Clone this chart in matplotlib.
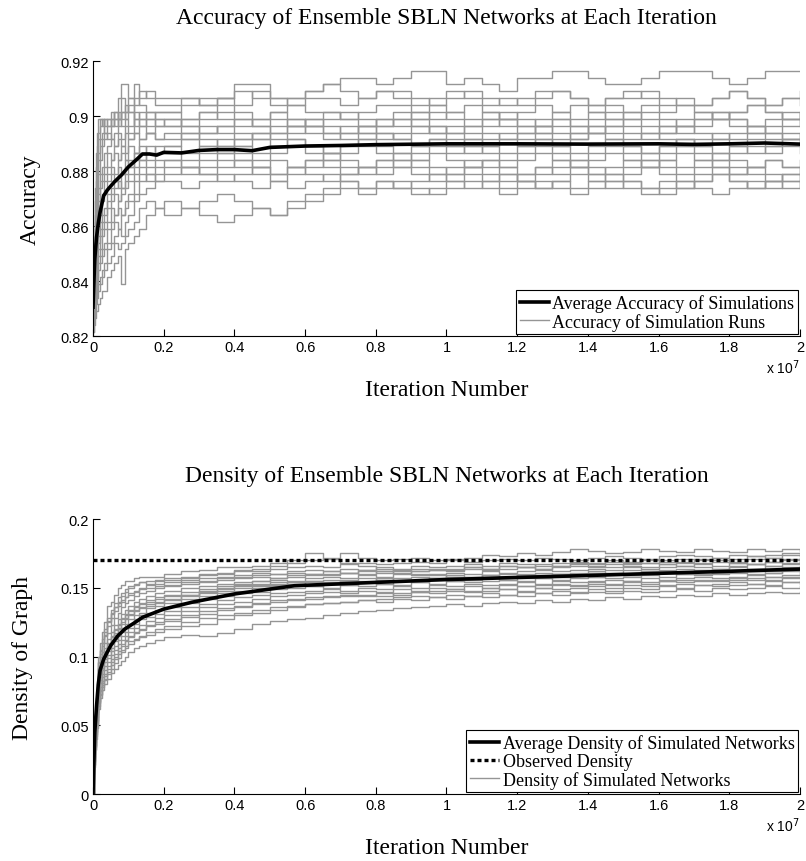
import numpy as np
import matplotlib
matplotlib.use('Agg')
import matplotlib.pyplot as plt
from matplotlib.ticker import FuncFormatter

# iteration grid of the simulation runs (units of 1e7 iterations)
run_iters = [0, 0.0025, 0.005, 0.0075, 0.01, 0.015, 0.02, 0.025, 0.03, 0.04,
             0.05, 0.06, 0.07, 0.08, 0.09, 0.1, 0.115, 0.13, 0.15, 0.175,
             0.2, 0.25, 0.3, 0.35, 0.4, 0.45, 0.5, 0.55, 0.6, 0.65,
             0.7, 0.75, 0.8, 0.85, 0.9, 0.95, 1.0, 1.05, 1.1, 1.15,
             1.2, 1.25, 1.3, 1.35, 1.4, 1.45, 1.5, 1.55, 1.6, 1.65,
             1.7, 1.75, 1.8, 1.85, 1.9, 1.95, 2.0]

# accuracy of each run as a level k: accuracy = acc_base + acc_step * k
acc_base = 0.824
acc_step = 0.0025
acc_runs = [
    [4, 12, 20, 25, 28, 30, 30, 29, 30, 30, 31, 30, 33, 35, 35, 33, 35, 33, 34, 33,
     33, 33, 32, 33, 35, 35, 33, 33, 34, 35, 36, 36, 35, 36, 37, 37, 35, 36, 35, 34, 36, 36, 37, 37, 36, 35, 35, 36, 37, 37, 37, 36, 35, 36, 37, 37, 37],
    [3, 10, 18, 23, 26, 28, 30, 30, 29, 30, 29, 31, 30, 33, 31, 33, 32, 34, 33, 32,
     32, 33, 32, 33, 34, 33, 32, 33, 34, 35, 34, 33, 34, 33, 32, 33, 34, 33, 32, 33, 32, 33, 34, 33, 32, 33, 34, 33, 32, 33, 32, 33, 34, 33, 32, 33, 32],
    [2, 8, 15, 20, 24, 27, 29, 30, 28, 29, 30, 31, 30, 31, 32, 31, 33, 32, 31, 31,
     31, 32, 33, 33, 32, 34, 33, 32, 33, 33, 32, 33, 34, 34, 33, 32, 33, 34, 33, 32, 33, 34, 34, 33, 32, 33, 33, 34, 33, 32, 32, 33, 34, 33, 32, 33, 34],
    [3, 9, 16, 21, 22, 25, 27, 28, 30, 29, 30, 29, 31, 30, 31, 32, 30, 31, 30, 31,
     31, 30, 31, 32, 31, 30, 31, 32, 31, 31, 30, 31, 32, 32, 31, 30, 31, 32, 31, 30, 31, 32, 31, 32, 31, 30, 31, 32, 31, 32, 31, 30, 31, 32, 31, 30, 31],
    [1, 7, 14, 18, 21, 24, 26, 27, 28, 27, 29, 30, 29, 31, 30, 29, 31, 30, 31, 30,
     29, 30, 31, 30, 29, 30, 31, 30, 29, 30, 31, 30, 29, 30, 31, 32, 31, 30, 31, 30, 29, 30, 31, 30, 31, 32, 31, 30, 29, 30, 31, 30, 31, 32, 31, 30, 31],
    [2, 6, 12, 17, 19, 22, 24, 26, 27, 28, 27, 28, 30, 29, 30, 31, 29, 30, 29, 30,
     30, 29, 30, 31, 30, 29, 30, 29, 30, 31, 30, 29, 30, 29, 30, 31, 30, 29, 30, 31, 30, 29, 30, 29, 30, 31, 30, 31, 30, 29, 30, 31, 30, 29, 30, 31, 30],
    [3, 8, 13, 16, 18, 20, 22, 23, 25, 26, 27, 26, 28, 27, 29, 28, 30, 29, 28, 29,
     30, 29, 28, 29, 30, 29, 28, 29, 30, 29, 28, 29, 30, 31, 30, 29, 28, 29, 30, 29, 28, 29, 30, 29, 28, 29, 30, 29, 28, 29, 30, 31, 30, 29, 28, 29, 30],
    [2, 5, 11, 14, 17, 19, 21, 22, 23, 25, 24, 26, 27, 26, 28, 27, 28, 29, 30, 29,
     29, 28, 29, 28, 27, 28, 29, 30, 29, 28, 29, 28, 29, 30, 29, 28, 29, 28, 29, 30, 29, 28, 29, 28, 29, 30, 29, 28, 29, 28, 29, 30, 29, 28, 29, 30, 29],
    [4, 7, 10, 13, 15, 18, 20, 21, 22, 23, 24, 25, 24, 26, 25, 27, 28, 27, 28, 27,
     28, 27, 28, 29, 28, 27, 28, 29, 28, 27, 28, 29, 28, 27, 28, 29, 28, 27, 28, 27, 28, 29, 28, 27, 28, 29, 28, 27, 28, 29, 28, 27, 28, 29, 28, 27, 28],
    [1, 5, 9, 12, 14, 16, 18, 19, 21, 22, 23, 22, 24, 25, 24, 26, 25, 27, 28, 27,
     27, 28, 27, 26, 27, 28, 27, 28, 29, 28, 27, 28, 27, 28, 29, 28, 27, 26, 27, 28, 27, 28, 27, 28, 29, 28, 27, 28, 27, 26, 27, 28, 27, 28, 27, 28, 27],
    [3, 6, 9, 11, 13, 15, 16, 18, 19, 21, 22, 21, 23, 22, 24, 23, 25, 26, 25, 26,
     26, 27, 26, 25, 26, 27, 26, 27, 26, 25, 26, 27, 28, 27, 26, 27, 26, 25, 26, 27, 26, 27, 26, 27, 28, 27, 26, 25, 26, 27, 26, 27, 26, 25, 26, 27, 26],
    [2, 4, 8, 10, 12, 13, 15, 16, 17, 19, 20, 21, 20, 22, 23, 24, 25, 24, 26, 25,
     26, 25, 26, 27, 26, 25, 26, 27, 26, 25, 26, 27, 26, 25, 26, 27, 26, 27, 26, 25, 26, 27, 26, 25, 26, 27, 26, 25, 26, 27, 26, 25, 26, 27, 26, 27, 26],
    [0, 3, 7, 9, 11, 12, 14, 15, 16, 18, 19, 20, 21, 20, 22, 23, 24, 25, 24, 25,
     25, 24, 25, 26, 25, 24, 25, 26, 25, 24, 25, 26, 25, 24, 25, 26, 25, 26, 25, 24, 25, 26, 25, 24, 25, 26, 25, 24, 25, 26, 25, 24, 25, 26, 25, 26, 25],
    [1, 4, 6, 8, 10, 11, 13, 14, 15, 17, 18, 19, 18, 20, 21, 22, 23, 24, 23, 24,
     24, 23, 24, 25, 24, 23, 24, 23, 24, 25, 24, 23, 24, 23, 24, 25, 24, 23, 24, 23, 24, 25, 24, 23, 24, 25, 24, 23, 24, 23, 24, 25, 24, 23, 24, 23, 24],
    [2, 3, 5, 7, 9, 10, 11, 13, 14, 15, 17, 16, 18, 19, 20, 21, 22, 23, 22, 23,
     24, 23, 22, 23, 24, 23, 22, 23, 24, 23, 22, 23, 24, 25, 24, 23, 22, 23, 24, 23, 22, 23, 24, 23, 22, 23, 24, 23, 24, 25, 24, 23, 22, 23, 24, 23, 22],
    [0, 2, 4, 6, 7, 9, 10, 11, 12, 14, 15, 16, 17, 16, 18, 19, 21, 22, 21, 22,
     23, 22, 23, 24, 23, 22, 21, 22, 23, 24, 23, 22, 23, 24, 23, 22, 23, 24, 23, 22, 21, 22, 23, 24, 23, 22, 23, 24, 23, 22, 23, 24, 23, 22, 21, 22, 23],
    [1, 3, 4, 5, 6, 8, 9, 10, 11, 12, 14, 15, 14, 16, 17, 18, 19, 21, 22, 21,
     22, 23, 22, 21, 22, 23, 22, 23, 22, 21, 22, 23, 22, 23, 22, 21, 22, 23, 22, 21, 22, 23, 22, 23, 22, 21, 22, 23, 22, 21, 22, 23, 22, 23, 22, 21, 22],
    [-1, 1, 3, 4, 5, 6, 7, 8, 9, 11, 12, 13, 14, 13, 15, 16, 18, 19, 20, 21,
     21, 20, 21, 22, 21, 20, 21, 20, 21, 22, 21, 20, 21, 20, 21, 22, 21, 20, 21, 22, 21, 20, 21, 20, 21, 22, 21, 20, 21, 20, 21, 22, 21, 20, 21, 20, 21],
    [0, 1, 2, 3, 4, 5, 6, 7, 8, 9, 10, 12, 11, 12, 13, 14, 15, 17, 18, 17,
     18, 17, 18, 19, 18, 17, 16, 18, 19, 20, 21, 20, 21, 20, 19, 20, 21, 22, 21, 20, 21, 20, 21, 22, 21, 20, 21, 20, 19, 20, 21, 22, 21, 20, 21, 22, 21],
    [-1, 0, 1, 2, 2, 3, 4, 5, 5, 7, 8, 9, 10, 6, 11, 12, 13, 14, 16, 17,
     16, 17, 16, 15, 16, 17, 16, 17, 18, 19, 20, 19, 20, 21, 20, 19, 20, 21, 20, 19, 20, 21, 20, 19, 20, 21, 20, 19, 20, 21, 20, 19, 20, 21, 20, 21, 20],
]

# average accuracy over the runs
acc_mean_iters = [0, 0.002, 0.005, 0.01, 0.015, 0.02, 0.03, 0.04, 0.05, 0.06, 0.08, 0.1,
                  0.12, 0.14, 0.16, 0.18, 0.2, 0.25, 0.3, 0.35, 0.4, 0.45, 0.5, 0.6,
                  0.7, 0.8, 1.0, 1.2, 1.4, 1.6, 1.7, 1.8, 1.9, 2.0]
acc_mean = [0.8305, 0.838, 0.848, 0.856, 0.861, 0.865, 0.871, 0.873, 0.8745, 0.876, 0.8785, 0.8815,
            0.8838, 0.8862, 0.8862, 0.8858, 0.8868, 0.8866, 0.8875, 0.8878, 0.8878, 0.8874, 0.8886, 0.8891,
            0.8893, 0.8896, 0.8899, 0.8899, 0.8898, 0.8899, 0.8897, 0.8899, 0.8902, 0.8898]

# density of each simulated network, in thousandths
dens_runs = [
    [0, 40, 58, 70, 80, 100, 110, 118, 125, 137, 140, 145, 150, 152, 155, 155, 157, 158, 158, 158,
     160, 162, 163, 165, 165, 166, 168, 168, 170, 172, 175, 172, 170, 171, 172, 170, 171, 172, 174, 173, 175, 174, 176, 178, 177, 175, 176, 178, 177, 176, 178, 177, 176, 178, 177, 178, 177],
    [0, 36, 55, 66, 76, 95, 105, 113, 120, 128, 134, 139, 143, 146, 149, 151, 153, 154, 155, 156,
     157, 158, 160, 161, 163, 162, 164, 165, 166, 165, 167, 168, 167, 168, 169, 168, 170, 169, 170, 171, 170, 172, 171, 170, 172, 173, 172, 171, 173, 174, 173, 172, 174, 173, 174, 175, 174],
    [0, 35, 52, 63, 72, 90, 100, 108, 115, 122, 128, 133, 137, 140, 143, 146, 148, 150, 152, 153,
     154, 156, 157, 158, 159, 161, 160, 162, 163, 162, 164, 163, 165, 164, 166, 165, 166, 167, 166, 168, 167, 166, 168, 169, 168, 170, 169, 168, 170, 169, 171, 170, 169, 171, 172, 171, 172],
    [0, 33, 50, 60, 70, 86, 96, 103, 110, 117, 123, 128, 132, 136, 139, 141, 144, 146, 148, 150,
     151, 153, 154, 156, 157, 158, 157, 159, 160, 159, 161, 160, 162, 161, 162, 163, 162, 164, 163, 164, 165, 164, 165, 166, 165, 167, 166, 165, 167, 168, 167, 166, 168, 167, 169, 168, 169],
    [0, 32, 48, 58, 67, 83, 93, 100, 106, 113, 118, 123, 127, 131, 134, 137, 140, 142, 144, 146,
     148, 150, 151, 153, 154, 155, 156, 155, 157, 158, 157, 159, 158, 160, 159, 160, 161, 160, 162, 161, 162, 163, 162, 163, 164, 163, 165, 164, 165, 166, 165, 164, 166, 167, 166, 167, 168],
    [0, 30, 46, 56, 65, 80, 90, 97, 103, 109, 114, 119, 123, 127, 130, 133, 136, 138, 140, 142,
     145, 147, 149, 150, 152, 153, 154, 153, 155, 156, 155, 157, 156, 157, 158, 157, 159, 158, 159, 160, 159, 161, 160, 161, 162, 161, 163, 162, 163, 164, 163, 164, 165, 164, 166, 165, 166],
    [0, 38, 56, 68, 78, 96, 104, 110, 116, 125, 131, 136, 140, 144, 147, 150, 152, 154, 153, 155,
     156, 157, 159, 160, 162, 164, 166, 170, 175, 171, 168, 166, 164, 162, 160, 159, 158, 157, 159, 158, 160, 159, 158, 160, 161, 160, 159, 161, 162, 161, 160, 162, 163, 162, 164, 163, 165],
    [0, 29, 44, 54, 63, 78, 87, 94, 100, 106, 111, 116, 120, 124, 127, 130, 133, 135, 137, 139,
     141, 144, 146, 148, 150, 151, 152, 153, 154, 153, 155, 154, 156, 155, 156, 157, 156, 158, 157, 158, 159, 158, 160, 159, 160, 161, 160, 162, 161, 162, 163, 162, 163, 164, 163, 164, 165],
    [0, 28, 43, 53, 62, 76, 85, 92, 98, 104, 109, 113, 117, 121, 124, 127, 130, 132, 135, 137,
     139, 142, 144, 146, 148, 150, 151, 152, 151, 153, 152, 154, 153, 155, 154, 156, 155, 156, 157, 156, 158, 157, 158, 159, 158, 160, 159, 160, 161, 160, 162, 161, 162, 163, 162, 163, 164],
    [0, 27, 42, 52, 60, 74, 83, 90, 96, 101, 106, 111, 115, 118, 121, 124, 127, 130, 132, 134,
     136, 139, 142, 144, 146, 147, 149, 150, 151, 150, 152, 151, 153, 152, 154, 153, 155, 154, 155, 156, 155, 157, 156, 157, 158, 157, 158, 159, 158, 160, 159, 160, 161, 160, 161, 162, 161],
    [0, 26, 40, 50, 58, 72, 81, 87, 93, 99, 104, 108, 112, 115, 118, 121, 124, 127, 129, 131,
     133, 136, 138, 141, 143, 145, 146, 147, 148, 149, 148, 150, 149, 151, 150, 152, 151, 153, 152, 153, 154, 153, 155, 154, 155, 156, 155, 157, 156, 157, 158, 157, 158, 159, 158, 159, 160],
    [0, 25, 38, 48, 56, 70, 78, 85, 90, 96, 101, 105, 109, 112, 115, 118, 121, 123, 126, 128,
     130, 133, 136, 138, 140, 142, 144, 145, 146, 147, 146, 148, 147, 149, 148, 150, 149, 151, 150, 152, 151, 152, 153, 152, 154, 153, 155, 154, 155, 156, 155, 156, 157, 156, 158, 157, 158],
    [0, 24, 36, 46, 54, 68, 76, 82, 87, 93, 98, 102, 106, 109, 112, 115, 118, 120, 123, 125,
     127, 130, 133, 135, 137, 139, 141, 142, 143, 144, 145, 144, 146, 145, 147, 146, 148, 147, 148, 149, 148, 150, 149, 150, 151, 150, 152, 151, 152, 153, 152, 153, 154, 153, 155, 154, 155],
    [0, 22, 34, 44, 52, 66, 73, 79, 84, 89, 94, 98, 102, 105, 108, 111, 113, 115, 118, 120,
     122, 125, 128, 130, 132, 134, 136, 137, 138, 139, 140, 141, 140, 142, 141, 143, 142, 144, 143, 145, 144, 146, 145, 146, 147, 146, 148, 147, 148, 149, 148, 150, 149, 150, 151, 150, 151],
    [0, 20, 32, 40, 48, 62, 70, 76, 80, 84, 88, 91, 94, 97, 100, 103, 106, 108, 110, 112,
     114, 116, 115, 117, 120, 124, 126, 127, 128, 130, 132, 133, 134, 135, 136, 137, 138, 137, 139, 140, 139, 141, 140, 142, 141, 143, 142, 144, 143, 145, 144, 146, 145, 146, 147, 146, 147],
    [0, 31, 47, 57, 66, 81, 91, 98, 104, 110, 115, 120, 124, 128, 131, 134, 137, 139, 141, 143,
     144, 145, 147, 149, 151, 152, 153, 154, 155, 154, 156, 155, 157, 156, 155, 157, 158, 157, 159, 158, 157, 159, 160, 159, 161, 160, 159, 161, 162, 161, 160, 162, 163, 162, 161, 163, 164],
    [0, 37, 54, 65, 74, 92, 102, 110, 118, 126, 132, 136, 139, 141, 143, 145, 147, 149, 150, 151,
     152, 154, 155, 157, 158, 159, 160, 161, 160, 162, 161, 163, 162, 163, 164, 163, 164, 165, 164, 166, 165, 164, 166, 167, 166, 165, 167, 168, 167, 166, 168, 169, 168, 167, 169, 170, 169],
    [0, 23, 35, 45, 53, 67, 75, 81, 86, 91, 96, 100, 104, 108, 111, 114, 117, 119, 122, 124,
     126, 129, 131, 134, 136, 138, 140, 141, 142, 143, 144, 145, 144, 146, 147, 148, 149, 148, 150, 149, 151, 150, 152, 151, 153, 152, 154, 153, 155, 154, 156, 155, 156, 157, 156, 158, 157],
    [0, 29, 45, 55, 64, 79, 88, 95, 101, 107, 112, 117, 121, 125, 128, 131, 134, 136, 138, 140,
     142, 145, 148, 151, 153, 155, 157, 158, 159, 160, 161, 162, 161, 163, 162, 164, 163, 165, 164, 166, 165, 167, 166, 168, 167, 169, 168, 170, 169, 171, 170, 172, 171, 173, 172, 174, 173],
    [0, 21, 33, 42, 50, 64, 72, 78, 83, 87, 91, 95, 99, 103, 106, 109, 112, 114, 116, 118,
     120, 122, 124, 127, 130, 132, 134, 136, 138, 139, 140, 141, 142, 143, 144, 143, 145, 144, 146, 145, 147, 146, 148, 147, 149, 148, 150, 149, 151, 150, 152, 151, 152, 153, 152, 154, 153],
]

# average density of the simulated networks
dens_mean_iters = [0, 0.005, 0.01, 0.015, 0.02, 0.03, 0.05, 0.07, 0.09, 0.12, 0.14,
                   0.2, 0.28, 0.4, 0.57, 0.76, 1.0, 1.2, 1.38, 1.6, 1.8, 2.0]
dens_mean = [0, 0.045, 0.064, 0.08, 0.09, 0.098, 0.108, 0.115, 0.12, 0.125, 0.1285,
             0.1345, 0.1395, 0.1455, 0.1515, 0.1535, 0.156, 0.1575, 0.1588, 0.1605, 0.162, 0.1636]

observed_density = 0.17

acc_yticks = [0.82, 0.84, 0.86, 0.88, 0.9, 0.92]
dens_yticks = [0, 0.05, 0.1, 0.15, 0.2]
xticks = [0, 0.2, 0.4, 0.6, 0.8, 1, 1.2, 1.4, 1.6, 1.8, 2]

serif = 'Liberation Serif'
sans = 'Liberation Sans'
gray = '#959595'

fig = plt.figure(figsize=(8.06, 8.62), dpi=100)
ax1 = fig.add_axes([0.1154, 0.609, 0.877, 0.319])
ax2 = fig.add_axes([0.1154, 0.0777, 0.877, 0.319])

gfmt = FuncFormatter(lambda v, p: '%g' % v)

def style_axes(ax, yticks, ylim, ylabel, ylab_x, title):
    for s in ['top', 'right']:
        ax.spines[s].set_visible(False)
    ax.set_xlim(0, 2)
    ax.set_ylim(*ylim)
    ax.set_xticks(xticks)
    ax.set_yticks(yticks)
    ax.xaxis.set_major_formatter(gfmt)
    ax.yaxis.set_major_formatter(gfmt)
    ax.tick_params(direction='in', length=5, width=0.8, labelsize=10.5, pad=3)
    for lab in ax.get_xticklabels() + ax.get_yticklabels():
        lab.set_fontfamily(sans)
    ax.set_xlabel('Iteration Number', fontsize=17, family=serif)
    ax.xaxis.set_label_coords(0.5, -0.195)
    ax.xaxis.label.set_va('center')
    ax.set_ylabel(ylabel, fontsize=17, family=serif)
    ax.yaxis.set_label_coords(ylab_x, 0.5)
    ax.yaxis.label.set_ha('center')
    ax.yaxis.label.set_va('center')
    ax.text(0.5, 1.158, title, transform=ax.transAxes, ha='center', va='center',
            fontsize=17, family=serif)
    ax.text(1.0, -0.113, r'x 10$^{7}$', transform=ax.transAxes, ha='right', va='center',
            fontsize=10, family=sans)

leg_kw = dict(loc='lower right', borderaxespad=0.1, fancybox=False, edgecolor='black',
              framealpha=1, handlelength=1.6, handletextpad=0.2, borderpad=0.2,
              labelspacing=0.05, prop={'family': serif, 'size': 13})

# accuracy panel
for i, run in enumerate(acc_runs):
    ax1.plot(run_iters, acc_base + acc_step * np.array(run), color=gray, lw=1.0,
             drawstyle='steps-post', label='Accuracy of Simulation Runs' if i == 0 else None)
ax1.plot(acc_mean_iters, acc_mean, color='black', lw=2.6, label='Average Accuracy of Simulations')
style_axes(ax1, acc_yticks, (0.82, 0.92), 'Accuracy', -0.089,
           'Accuracy of Ensemble SBLN Networks at Each Iteration')
h, l = ax1.get_legend_handles_labels()
leg1 = ax1.legend([h[1], h[0]], [l[1], l[0]], **leg_kw)
leg1.get_frame().set_linewidth(0.8)

# density panel
for i, run in enumerate(dens_runs):
    ax2.plot(run_iters, np.array(run) / 1000.0, color=gray, lw=1.0, drawstyle='steps-post',
             label='Density of Simulated Networks' if i == 0 else None)
ax2.plot(dens_mean_iters, dens_mean, color='black', lw=2.6, label='Average Density of Simulated Networks')
ax2.axhline(observed_density, color='black', lw=2.4, dashes=(1.2, 0.9), label='Observed Density')
style_axes(ax2, dens_yticks, (0, 0.2), 'Density of Graph', -0.1,
           'Density of Ensemble SBLN Networks at Each Iteration')
h, l = ax2.get_legend_handles_labels()
leg2 = ax2.legend([h[1], h[2], h[0]], [l[1], l[2], l[0]], **leg_kw)
leg2.get_frame().set_linewidth(0.8)

fig.savefig('out.png', dpi=100)
